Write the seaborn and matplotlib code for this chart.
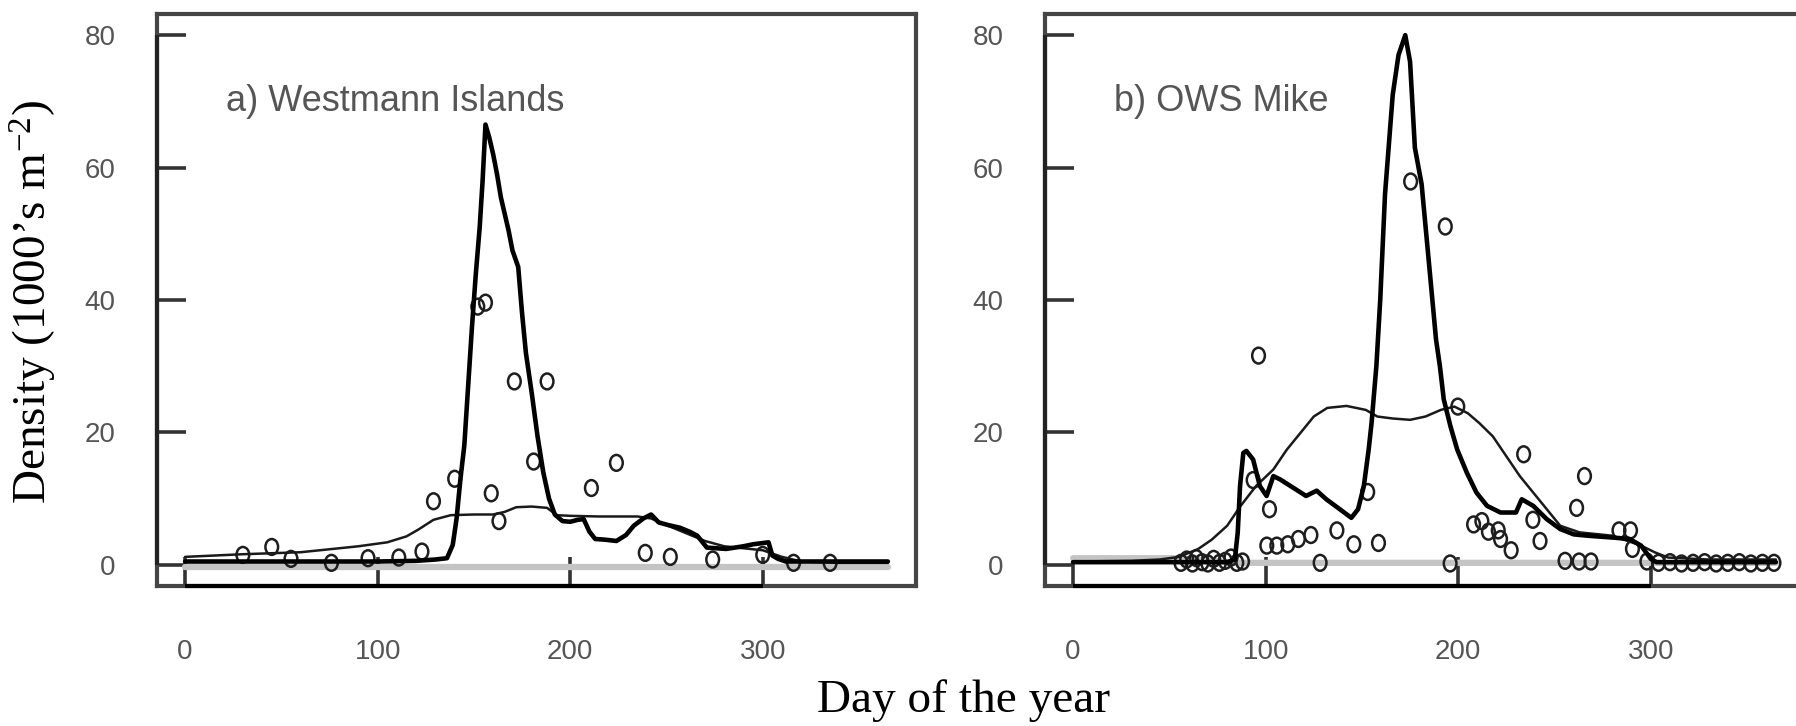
import matplotlib
matplotlib.use("Agg")
import matplotlib.pyplot as plt
import numpy as np
import pandas as pd
import seaborn as sns
from matplotlib.path import Path

# ---------------- data ----------------
panel_titles = ["a) Westmann Islands", "b) OWS Mike"]
x_ticks = [0, 100, 200, 300]
y_ticks = [0, 20, 40, 60, 80]

# Panel a: thick model line
thick_a_day = [0, 20, 40, 60, 80, 100, 120, 130, 136, 139, 141, 143, 145, 147, 149, 151, 153, 154.5, 156, 158,
               160, 162, 164, 166, 168, 170, 173, 175, 177, 180, 183, 186, 189, 192, 196, 200, 204, 207, 210, 213,
               218, 224, 229, 233, 238, 242, 246, 251, 257, 262, 266, 271, 281, 290, 295, 303, 305, 308, 312, 330, 365]
thick_a_val = [0.5, 0.5, 0.5, 0.5, 0.5, 0.5, 0.6, 0.8, 1.0, 3, 7, 13, 18, 27, 36, 44, 51, 58, 66.5, 64.5,
               62, 59, 55.5, 53, 50.5, 47.5, 45, 38, 32, 26, 19.5, 14, 10, 7.6, 6.6, 6.5, 6.8, 6.9, 5, 3.9,
               3.8, 3.6, 4.5, 5.9, 7.0, 7.6, 6.4, 6.0, 5.6, 5.0, 4.4, 2.6, 2.4, 2.8, 3.1, 3.4, 1.4, 0.9, 0.5, 0.5, 0.5]
# Panel a: thin smooth line
thin_a_day = [0, 30, 60, 90, 105, 115, 121, 129, 138, 150, 160, 166, 172, 180, 188, 193, 200, 215, 235, 242,
              250, 260, 270, 280, 290, 300, 310, 320, 340, 365]
thin_a_val = [1.2, 1.6, 1.9, 2.8, 3.4, 4.3, 5.3, 6.8, 7.5, 7.6, 7.6, 8.0, 8.7, 8.8, 8.6, 7.5, 7.4, 7.3, 7.3, 7.0,
              6.0, 4.8, 3.6, 2.8, 2.5, 2.2, 1.2, 0.5, 0.3, 0.3]
# Panel a: observations
obs_a_day = [30, 45, 55, 76, 95, 111, 123, 129, 140, 152, 156, 159, 163, 171, 181, 188, 211, 224, 239, 252,
             274, 300, 316, 335]
obs_a_val = [1.5, 2.7, 0.9, 0.3, 1.0, 1.1, 2.0, 9.6, 13, 39, 39.6, 10.8, 6.6, 27.7, 15.6, 27.7, 11.6, 15.4, 1.8, 1.2,
             0.8, 1.5, 0.3, 0.3]
# Panel a: grey baseline
base_a_day = [0, 365]
base_a_val = [-0.3, -0.3]

# Panel b: thick model line
thick_b_day = [0, 30, 60, 80, 84, 85.5, 86.7, 88.4, 90, 93.5, 97, 100.5, 104, 107.5, 114, 121, 126.5, 131.5, 138.5, 144.5,
               148, 151, 153.5, 155, 157.5, 159.5, 162, 166, 169, 172.5, 175, 177.5, 181, 185, 188.5, 190.5, 192.5, 196, 199.5, 204.5,
               209.5, 215, 222, 230, 233, 239, 246, 253, 260, 267, 281, 289, 295, 300, 303, 330, 365]
thick_b_val = [0.4, 0.4, 0.4, 0.4, 0.8, 4.9, 11.9, 16.9, 17.2, 15.9, 11.9, 10.4, 13.4, 12.9, 11.7, 10.4, 11.2, 9.9, 8.4, 7.1,
               8.4, 11.9, 17.4, 21.4, 30, 40, 56, 71, 77, 80, 76, 63, 57.5, 45, 34, 30, 25, 20.9, 17.4, 13.9,
               10.9, 8.9, 7.9, 7.9, 9.9, 8.9, 6.9, 5.4, 4.6, 4.4, 4.1, 3.9, 2.9, 0.9, 0.4, 0.4, 0.4]
# Panel b: thin smooth line
thin_b_day = [0, 30, 45, 55, 65, 72, 80, 87, 95, 104, 111, 118, 125, 132, 142, 152, 158, 166, 175, 183,
              191, 198, 205, 211, 218, 225, 232, 239, 246, 253, 263, 280, 295, 302, 309, 330, 365]
thin_b_val = [0.5, 0.6, 0.8, 1.2, 2.4, 3.8, 5.9, 8.9, 11.9, 14.4, 17.4, 19.9, 22.4, 23.7, 24.0, 23.4, 22.4, 22.1, 21.9, 22.4,
              23.4, 23.9, 22.9, 21.4, 19.4, 16.4, 13.4, 10.9, 8.4, 5.9, 4.9, 4.4, 2.9, 1.9, 1.1, 0.8, 0.8]
# Panel b: observations
obs_b_day = [56, 59, 62, 64, 67, 70, 73, 76, 79, 82, 85, 88, 93.5, 96.3, 100.6, 102, 105.8, 111.5, 117, 123.5,
             128.3, 137, 145.8, 153, 158.6, 175.3, 193.3, 195.8, 199.8, 208, 212.3, 215.7, 220.8, 222, 227.5, 234,
             238.8, 242.5, 255.5, 261.5, 262.8, 265.6, 269, 283.5, 289.5, 290.5, 298, 304, 310, 316, 322, 328,
             334, 340, 346, 352, 358, 364]
obs_b_val = [0.3, 0.8, 0.2, 1.0, 0.4, 0.2, 0.9, 0.3, 0.6, 1.1, 0.3, 0.5, 12.8, 31.6, 2.9, 8.4, 2.9, 3.1, 3.9, 4.5,
             0.3, 5.2, 3.1, 11.0, 3.3, 57.9, 51.1, 0.2, 23.9, 6.1, 6.6, 5.0, 5.2, 3.9, 2.2, 16.7,
             6.8, 3.6, 0.6, 8.6, 0.5, 13.4, 0.5, 5.2, 5.2, 2.4, 0.5, 0.3, 0.4, 0.2, 0.3, 0.4,
             0.2, 0.3, 0.4, 0.2, 0.3, 0.3]
# Panel b: grey baseline
base_b_day = [0, 55, 85, 365]
base_b_val = [1.0, 1.0, 0.3, 0.3]

# ---------------- style ----------------
sns.set_style("white")
plt.rcParams["font.family"] = ["Liberation Sans", "DejaVu Sans"]
plt.rcParams["mathtext.fontset"] = "custom"
plt.rcParams["mathtext.rm"] = "Liberation Serif"
plt.rcParams["mathtext.it"] = "Liberation Serif:italic"
plt.rcParams["mathtext.bf"] = "Liberation Serif:bold"

W, H = 1796, 726
fig = plt.figure(figsize=(W / 100, H / 100), dpi=100)
fig.patch.set_facecolor("white")


def box(l, t, r, b):
    return [l / W, 1 - b / H, (r - l) / W, (b - t) / H]


ax_a = fig.add_axes(box(157, 14, 916, 586))
ax_b = fig.add_axes(box(1045, 14, 1804, 586))

circ = Path.unit_circle()
ell_marker = Path(circ.vertices * np.array([0.8, 1.0]), circ.codes)

panels = [
    (ax_a, panel_titles[0], (base_a_day, base_a_val), (thin_a_day, thin_a_val),
     (thick_a_day, thick_a_val), (obs_a_day, obs_a_val)),
    (ax_b, panel_titles[1], (base_b_day, base_b_val), (thin_b_day, thin_b_val),
     (thick_b_day, thick_b_val), (obs_b_day, obs_b_val)),
]

for ax, title, base, thin, thick, obs in panels:
    df_base = pd.DataFrame({"day": base[0], "density": base[1]})
    df_thin = pd.DataFrame({"day": thin[0], "density": thin[1]})
    df_thick = pd.DataFrame({"day": thick[0], "density": thick[1]})
    df_obs = pd.DataFrame({"day": obs[0], "density": obs[1]})

    sns.lineplot(data=df_base, x="day", y="density", ax=ax, color="#c4c4c4",
                 linewidth=4.5, estimator=None, sort=False, zorder=1)
    sns.scatterplot(data=df_obs, x="day", y="density", ax=ax, marker=ell_marker,
                    s=130, facecolor="none", edgecolor="#1e1e1e", linewidth=1.8, zorder=2)
    sns.lineplot(data=df_thin, x="day", y="density", ax=ax, color="#1a1a1a",
                 linewidth=1.8, estimator=None, sort=False, zorder=3)
    sns.lineplot(data=df_thick, x="day", y="density", ax=ax, color="black",
                 linewidth=3.3, estimator=None, sort=False, zorder=4)

    ax.set_xlim(-14.6, 379.6)
    ax.set_ylim(-3.2, 83.2)
    ax.set_xticks(x_ticks)
    ax.set_yticks(y_ticks)
    ax.set_xlabel("")
    ax.set_ylabel("")
    ax.grid(False)
    for sp in ax.spines.values():
        sp.set_visible(True)
        sp.set_color("#454545")
        sp.set_linewidth(3.0)
    ax.tick_params(axis="x", bottom=True, direction="in", length=21, width=2.6, color="#333333",
                   pad=38, labelsize=20, labelcolor="#555555")
    ax.tick_params(axis="y", left=True, direction="in", length=21, width=2.6, color="#333333",
                   pad=30, labelsize=20, labelcolor="#555555")
    # R-style axis lines from first to last tick
    ax.plot([x_ticks[0], x_ticks[-1]], [0, 0], transform=ax.get_xaxis_transform(),
            color="black", linewidth=3.0, clip_on=False, zorder=6, solid_capstyle="butt")
    ax.plot([0, 0], [y_ticks[0], y_ticks[-1]], transform=ax.get_yaxis_transform(),
            color="#222222", linewidth=3.0, clip_on=False, zorder=6, solid_capstyle="butt")

    ax.text(21, 70, title, fontsize=26, color="#555555", ha="left", va="center")

fig.text(963.5 / W, 1 - 701 / H, "Day of the year", family="Liberation Serif",
         fontsize=34, ha="center", va="center", color="black")
fig.text(34 / W, 1 - 302 / H, "Density (1000\u2019s m$^{-2}$)", family="Liberation Serif",
         fontsize=34, rotation=90, ha="center", va="center", color="black")

fig.savefig("out.png", dpi=100, facecolor="white")
